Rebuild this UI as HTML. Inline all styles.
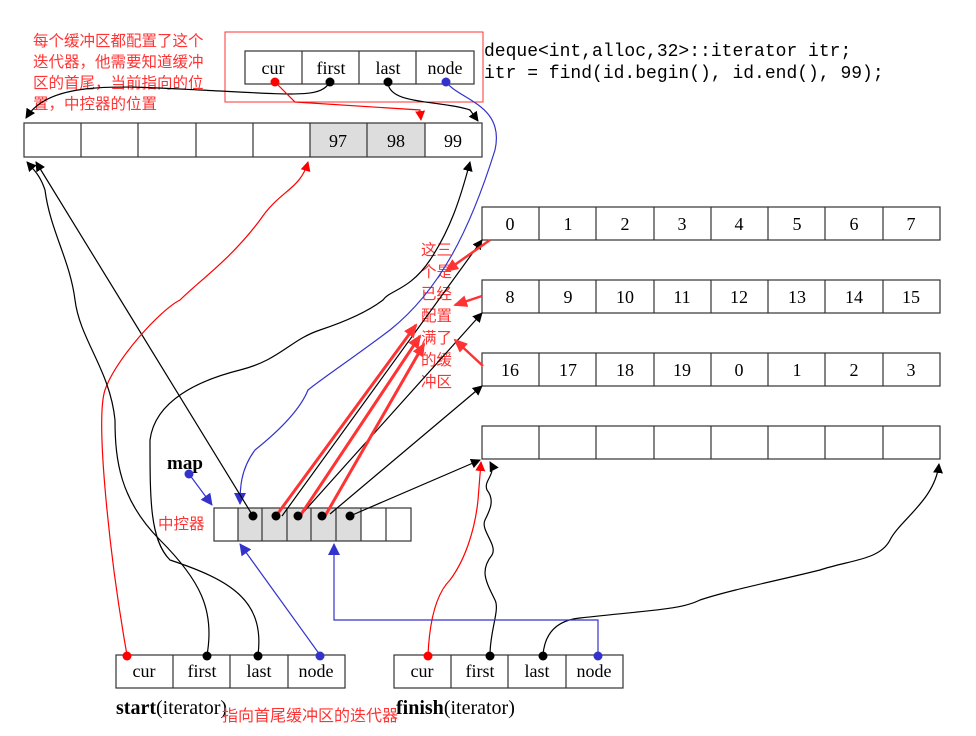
<!DOCTYPE html>
<html><head><meta charset="utf-8"><style>
body{margin:0;background:#fff}
svg{display:block}
.t{font-family:"Liberation Serif",serif;font-size:18px;text-anchor:middle}
.r{font-family:"Liberation Sans","Noto Sans CJK SC",sans-serif;fill:#f33;font-size:15.5px}
</style></head><body>
<svg width="976" height="736" viewBox="0 0 976 736" xmlns="http://www.w3.org/2000/svg">
<defs>
<marker id="ab" markerWidth="10" markerHeight="10" refX="9" refY="5" orient="auto" markerUnits="userSpaceOnUse"><path d="M0,0L10,5L0,10z" fill="#000"/></marker>
<marker id="ar" markerWidth="10" markerHeight="10" refX="9" refY="5" orient="auto" markerUnits="userSpaceOnUse"><path d="M0,0L10,5L0,10z" fill="#f00"/></marker>
<marker id="ar2" markerWidth="14" markerHeight="12" refX="12" refY="6" orient="auto" markerUnits="userSpaceOnUse"><path d="M0,0L14,6L0,12z" fill="#f33"/></marker>
<marker id="au" markerWidth="12" markerHeight="12" refX="11" refY="6" orient="auto" markerUnits="userSpaceOnUse"><path d="M0,0L12,6L0,12z" fill="#33c"/></marker>
</defs>
<g stroke="#333" stroke-width="1.2" fill="none">
<rect x="310" y="123" width="115" height="34" fill="#ddd" stroke="none"/>
<rect x="24" y="123" width="458" height="34"/>
<path d="M81 123V157M138 123V157M196 123V157M253 123V157M310 123V157M367 123V157M425 123V157"/>
<rect x="245" y="51" width="229" height="33"/>
<path d="M302 51V84M359 51V84M416 51V84"/>
<rect x="482" y="207" width="458" height="33"/><rect x="482" y="280" width="458" height="33"/>
<rect x="482" y="353" width="458" height="33"/><rect x="482" y="426" width="458" height="33"/>
<path d="M539 207V240M596 207V240M654 207V240M711 207V240M768 207V240M825 207V240M883 207V240"/>
<path d="M539 280V313M596 280V313M654 280V313M711 280V313M768 280V313M825 280V313M883 280V313"/>
<path d="M539 353V386M596 353V386M654 353V386M711 353V386M768 353V386M825 353V386M883 353V386"/>
<path d="M539 426V459M596 426V459M654 426V459M711 426V459M768 426V459M825 426V459M883 426V459"/>
<rect x="238" y="508" width="123" height="33" fill="#ddd" stroke="none"/>
<rect x="214" y="508" width="197" height="33"/>
<path d="M238 508V541M262 508V541M287 508V541M311 508V541M336 508V541M361 508V541M386 508V541"/>
<rect x="116" y="655" width="229" height="33"/><path d="M173 655V688M230 655V688M288 655V688"/>
<rect x="394" y="655" width="229" height="33"/><path d="M451 655V688M508 655V688M566 655V688"/>
</g>
<rect x="225" y="32" width="258" height="70" fill="none" stroke="#f33" stroke-width="1"/>
<g class="t">
<text x="338" y="147">97</text><text x="396" y="147">98</text><text x="453" y="147">99</text>
<text x="273" y="74">cur</text><text x="331" y="74">first</text><text x="388" y="74">last</text><text x="445" y="74">node</text>
<text x="510" y="230">0</text><text x="568" y="230">1</text><text x="625" y="230">2</text><text x="682" y="230">3</text><text x="739" y="230">4</text><text x="797" y="230">5</text><text x="854" y="230">6</text><text x="911" y="230">7</text>
<text x="510" y="303">8</text><text x="568" y="303">9</text><text x="625" y="303">10</text><text x="682" y="303">11</text><text x="739" y="303">12</text><text x="797" y="303">13</text><text x="854" y="303">14</text><text x="911" y="303">15</text>
<text x="510" y="376">16</text><text x="568" y="376">17</text><text x="625" y="376">18</text><text x="682" y="376">19</text><text x="739" y="376">0</text><text x="797" y="376">1</text><text x="854" y="376">2</text><text x="911" y="376">3</text>
<text x="144" y="677">cur</text><text x="202" y="677">first</text><text x="259" y="677">last</text><text x="316" y="677">node</text>
<text x="422" y="677">cur</text><text x="480" y="677">first</text><text x="537" y="677">last</text><text x="594" y="677">node</text>
</g>
<text x="116" y="714" style="font-family:'Liberation Serif',serif;font-size:20px"><tspan font-weight="bold">start</tspan>(iterator)</text>
<text x="396" y="714" style="font-family:'Liberation Serif',serif;font-size:20px"><tspan font-weight="bold">finish</tspan>(iterator)</text>
<text x="167" y="469" style="font-family:'Liberation Serif',serif;font-size:19px;font-weight:bold">map</text>
<text x="484" y="56" style="font-family:'Liberation Mono',monospace;font-size:18px">deque&lt;int,alloc,32&gt;::iterator itr;</text>
<text x="484" y="78" style="font-family:'Liberation Mono',monospace;font-size:18px">itr = find(id.begin(), id.end(), 99);</text>
<g class="r">
<text x="33" y="46">每个缓冲区都配置了这个</text>
<text x="33" y="67">迭代器，他需要知道缓冲</text>
<text x="33" y="88">区的首尾，当前指向的位</text>
<text x="33" y="109">置，中控器的位置</text>
<text x="158" y="529">中控器</text>
<text x="222" y="721" style="font-size:16px">指向首尾缓冲区的迭代器</text>
<text x="421" y="255">这三</text><text x="421" y="277">个是</text><text x="421" y="299">已经</text><text x="421" y="321">配置</text><text x="421" y="343">满了</text><text x="421" y="365">的缓</text><text x="421" y="387">冲区</text>
</g>
<g fill="none" stroke-width="1.2">
<path d="M330 82C320 98 300 95 200 90C120 86 50 80 26 118" stroke="#000" marker-end="url(#ab)"/>
<path d="M275 82L295 102L420 110L421 120" stroke="#f00" marker-end="url(#ar)"/>
<path d="M388 82C388 105 440 100 470 110L478 121" stroke="#000" marker-end="url(#ab)"/>
<path d="M446 82C460 100 505 105 495 150C470 230 440 290 390 330C350 360 320 380 308 390C300 410 280 430 255 450C240 470 240 490 240 504" stroke="#33c" marker-end="url(#au)"/>
<path d="M253 516L36 162" stroke="#000" marker-end="url(#ab)"/>
<path d="M282 516L482 240" stroke="#000" marker-end="url(#ab)"/>
<path d="M300 516L482 313" stroke="#000" marker-end="url(#ab)"/>
<path d="M330 514L482 386" stroke="#000" marker-end="url(#ab)"/>
<path d="M350 516L480 460" stroke="#000" marker-end="url(#ab)"/>
<path d="M276 516L416 325" stroke="#f33" stroke-width="3" marker-end="url(#ar2)"/>
<path d="M300 516L420 336" stroke="#f33" stroke-width="3" marker-end="url(#ar2)"/>
<path d="M325 516L424 344" stroke="#f33" stroke-width="3" marker-end="url(#ar2)"/>
<path d="M490 240L446 271" stroke="#f33" stroke-width="2.5" marker-end="url(#ar2)"/>
<path d="M482 296L455 305" stroke="#f33" stroke-width="2.5" marker-end="url(#ar2)"/>
<path d="M483 366L455 340" stroke="#f33" stroke-width="2.5" marker-end="url(#ar2)"/>
<path d="M189 474L212 505" stroke="#33c" marker-end="url(#au)"/>
<circle cx="189" cy="474" r="4.5" fill="#33c"/>
<path d="M127 655C110 560 95 420 105 390C115 360 160 310 180 300C200 280 230 260 260 220C280 190 300 190 308 162" stroke="#f00" marker-end="url(#ar)"/>
<path d="M207 655C215 610 200 580 160 540C120 500 115 460 115 420C110 370 80 340 75 300C70 260 50 230 45 190C40 175 34 170 27 162" stroke="#000" marker-end="url(#ab)"/>
<path d="M258 655C265 600 230 580 170 560C150 540 150 500 150 440C155 400 200 380 240 370C280 360 290 340 320 330C350 320 370 310 383 300C390 290 410 290 430 260C450 230 460 200 470 162" stroke="#000" marker-end="url(#ab)"/>
<path d="M320 655L240 544" stroke="#33c" marker-end="url(#au)"/>
<path d="M428 655C430 610 440 590 450 580C465 560 475 530 478 500L481 462" stroke="#f00" marker-end="url(#ar)"/>
<path d="M490 655C490 630 500 610 495 600C485 580 480 570 492 555C498 545 480 530 485 520C490 510 495 500 487 490C483 480 497 475 490 462" stroke="#000" marker-end="url(#ab)"/>
<path d="M543 655C545 630 560 620 580 618C650 610 680 610 700 600C730 590 780 580 820 570C850 560 880 560 890 540C900 520 935 500 939 464" stroke="#000" marker-end="url(#ab)"/>
<path d="M598 655V620H334V544" stroke="#33c" marker-end="url(#au)"/>
</g>
<g>
<circle cx="275" cy="82" r="4.5" fill="#f00"/><circle cx="330" cy="82" r="4.5"/><circle cx="388" cy="82" r="4.5"/><circle cx="446" cy="82" r="4.5" fill="#33c"/>
<circle cx="253" cy="516" r="4.5"/><circle cx="276" cy="516" r="4.5"/><circle cx="298" cy="516" r="4.5"/><circle cx="322" cy="516" r="4.5"/><circle cx="350" cy="516" r="4.5"/>
<circle cx="127" cy="656" r="4.5" fill="#f00"/><circle cx="207" cy="656" r="4.5"/><circle cx="258" cy="656" r="4.5"/><circle cx="320" cy="656" r="4.5" fill="#33c"/>
<circle cx="428" cy="656" r="4.5" fill="#f00"/><circle cx="490" cy="656" r="4.5"/><circle cx="543" cy="656" r="4.5"/><circle cx="598" cy="656" r="4.5" fill="#33c"/>
</g>
</svg>
</body></html>
